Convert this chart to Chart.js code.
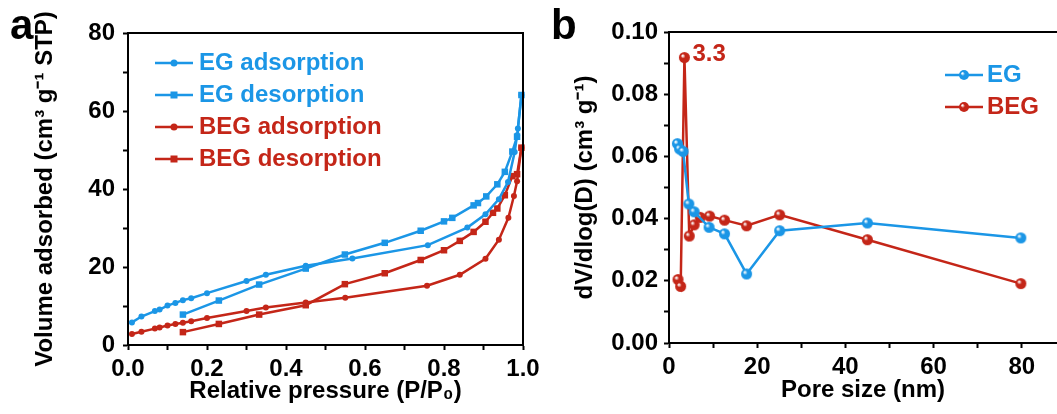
<!DOCTYPE html>
<html>
<head>
<meta charset="utf-8">
<script src="https://cdn.jsdelivr.net/npm/chart.js@4.4.1/dist/chart.umd.min.js"></script>
<style>
  html, body { margin: 0; padding: 0; background: #fff; width: 1057px; height: 414px; overflow: hidden; }
  .wrap { position: absolute; top: 0; }
  .letter { position: absolute; font-family: "Liberation Sans", Arial, sans-serif; font-weight: bold; font-size: 42px; color: #000; line-height: 1; }
</style>
</head>
<body>
<div class="wrap" style="left:0;width:540px;height:414px"><canvas id="ca" width="540" height="414"></canvas></div>
<div class="wrap" style="left:540px;width:517px;height:414px"><canvas id="cb" width="517" height="414"></canvas></div>
<div class="letter" style="left:10px;top:4px">a</div>
<div class="letter" style="left:551px;top:4px">b</div>
<script>
// ---------- Panel a data ----------
const egAdsP   = [0.010, 0.034, 0.068, 0.080, 0.100, 0.120, 0.139, 0.160, 0.200, 0.300, 0.349, 0.450, 0.568, 0.759, 0.859, 0.905, 0.939, 0.962, 0.979, 0.985, 0.987, 0.996];
const egAdsV   = [5.8, 7.3, 8.7, 9.1, 10.1, 10.8, 11.5, 12.0, 13.3, 16.4, 18.0, 20.3, 22.2, 25.6, 30.1, 33.5, 37.4, 41.8, 49.5, 53.8, 55.5, 64.1];
const egDesP   = [0.996, 0.985, 0.973, 0.954, 0.935, 0.907, 0.886, 0.875, 0.821, 0.800, 0.741, 0.650, 0.549, 0.450, 0.332, 0.230, 0.139];
const egDesV   = [64.1, 53.4, 49.6, 44.4, 41.2, 38.1, 36.4, 35.8, 32.6, 31.7, 29.3, 26.2, 23.2, 19.6, 15.5, 11.4, 7.8];
const begAdsP  = [0.010, 0.034, 0.068, 0.080, 0.100, 0.120, 0.139, 0.160, 0.200, 0.300, 0.349, 0.450, 0.550, 0.757, 0.840, 0.905, 0.939, 0.963, 0.977, 0.985, 0.996];
const begAdsV  = [2.8, 3.4, 4.2, 4.5, 5.0, 5.4, 5.7, 6.1, 6.9, 8.7, 9.6, 10.9, 12.1, 15.2, 18.0, 22.1, 27.0, 32.6, 38.2, 42.0, 50.6];
const begDesP  = [0.996, 0.985, 0.973, 0.954, 0.935, 0.924, 0.905, 0.875, 0.840, 0.800, 0.741, 0.650, 0.549, 0.450, 0.332, 0.230, 0.139];
const begDesV  = [50.6, 43.8, 43.3, 38.4, 35.0, 33.9, 31.6, 29.0, 26.7, 24.3, 21.8, 18.4, 15.6, 10.2, 7.8, 5.4, 3.3];
const seriesNamesA = ["EG adsorption", "EG desorption", "BEG adsorption", "BEG desorption"];

// ---------- Panel b data ----------
const egPore   = [1.9, 2.4, 3.2, 4.5, 5.7, 9.1, 12.6, 17.6, 25.1, 45.0, 79.8];
const egDV     = [0.0641, 0.0624, 0.0616, 0.0447, 0.0422, 0.0372, 0.0351, 0.0222, 0.0361, 0.0386, 0.0338];
const begPore  = [2.05, 2.65, 3.5, 4.6, 5.7, 7.1, 9.2, 12.6, 17.6, 25.1, 45.0, 79.8];
const begDV    = [0.0204, 0.0182, 0.0918, 0.0344, 0.0380, 0.0404, 0.0408, 0.0395, 0.0377, 0.0412, 0.0332, 0.0191];
const seriesNamesB = ["EG", "BEG"];
const peakLabel = "3.3";

const BLUE = "rgb(27,150,230)";
const RED = "rgb(196,38,24)";
const FONT = "'Liberation Sans', Arial, sans-serif";

function pts(xs, ys) { return xs.map((x, i) => ({ x: x, y: ys[i] })); }

function ballCanvas(color, r) {
  const c = document.createElement('canvas');
  const s = Math.ceil(r * 2 + 2);
  c.width = s; c.height = s;
  const g = c.getContext('2d');
  const cx = s / 2, cy = s / 2;
  const grd = g.createRadialGradient(cx - r * 0.35, cy - r * 0.35, r * 0.1, cx, cy, r);
  grd.addColorStop(0, 'rgba(255,255,255,0.95)');
  grd.addColorStop(0.35, color);
  grd.addColorStop(1, color);
  g.fillStyle = grd;
  g.beginPath(); g.arc(cx, cy, r, 0, Math.PI * 2); g.fill();
  return c;
}

function legendImg(color, style) {
  const c = document.createElement('canvas');
  c.width = 38; c.height = 14;
  const g = c.getContext('2d');
  g.strokeStyle = color; g.lineWidth = 2.5;
  g.beginPath(); g.moveTo(0, 7); g.lineTo(38, 7); g.stroke();
  g.fillStyle = color;
  if (style === 'circle') { g.beginPath(); g.arc(19, 7, 3.5, 0, Math.PI * 2); g.fill(); }
  else if (style === 'rect') { g.fillRect(15.5, 3.5, 7, 7); }
  else if (style === 'ball') { g.drawImage(ballCanvas(color, 5), 19 - 6, 7 - 6); }
  return c;
}

// frame: top line always, right line only when it lies inside the canvas
const framePlugin = {
  id: 'frame',
  afterDatasetsDraw(chart) {
    const { ctx, chartArea: a } = chart;
    ctx.save();
    ctx.strokeStyle = '#000'; ctx.lineWidth = 2;
    ctx.beginPath();
    ctx.moveTo(a.left, a.top); ctx.lineTo(a.right, a.top);
    if (a.right < chart.width - 2) { ctx.lineTo(a.right, a.bottom); }
    ctx.stroke();
    ctx.restore();
  }
};

function legendPlace(left, top) {
  return {
    id: 'legendPlace',
    afterLayout(chart) {
      const l = chart.legend;
      if (!l) return;
      const w = l.width;
      l.left = left; l.top = top; l.right = left + w; l.bottom = top + 400;
    }
  };
}

function axisCommon(extra) {
  return Object.assign({
    type: 'linear',
    grid: { drawOnChartArea: false, drawTicks: true, tickLength: 5, tickWidth: 2, tickColor: '#000' },
    border: { display: true, color: '#000', width: 2 },
  }, extra);
}

// ---------- Chart a ----------
const imgsA = [legendImg(BLUE, 'circle'), legendImg(BLUE, 'rect'), legendImg(RED, 'circle'), legendImg(RED, 'rect')];
new Chart(document.getElementById('ca'), {
  type: 'line',
  data: {
    datasets: [
      { label: seriesNamesA[0], data: pts(egAdsP, egAdsV), borderColor: BLUE, backgroundColor: BLUE, pointStyle: 'circle', pointRadius: 3 },
      { label: seriesNamesA[1], data: pts(egDesP, egDesV), borderColor: BLUE, backgroundColor: BLUE, pointStyle: 'rect', pointRadius: 4.6 },
      { label: seriesNamesA[2], data: pts(begAdsP, begAdsV), borderColor: RED, backgroundColor: RED, pointStyle: 'circle', pointRadius: 3 },
      { label: seriesNamesA[3], data: pts(begDesP, begDesV), borderColor: RED, backgroundColor: RED, pointStyle: 'rect', pointRadius: 4.6 },
    ].map(d => Object.assign(d, { borderWidth: 2.5, pointBorderWidth: 0, tension: 0, clip: false }))
  },
  options: {
    responsive: false, animation: false, devicePixelRatio: 1,
    layout: { autoPadding: false, padding: { left: 0, right: 17, top: 33, bottom: 0 } },
    plugins: {
      tooltip: { enabled: false },
      legend: {
        position: 'chartArea', align: 'start',
        labels: {
          usePointStyle: true, pointStyleWidth: 26, padding: 8,
          font: { family: FONT, size: 24, weight: 'bold' },
          generateLabels(chart) {
            return chart.data.datasets.map((d, i) => ({
              text: d.label, fillStyle: d.borderColor, strokeStyle: d.borderColor,
              fontColor: d.borderColor, lineWidth: 0, pointStyle: imgsA[i], hidden: false, datasetIndex: i
            }));
          }
        }
      }
    },
    scales: {
      x: axisCommon({
        min: 0, max: 1,
        ticks: {
          stepSize: 0.1, autoSkip: false, maxRotation: 0, padding: 5, color: '#000',
          font: { family: FONT, size: 24, weight: 'bold' },
          callback: v => (Math.round(v * 10) % 2 === 0 ? v.toFixed(1) : '')
        },
        title: { display: true, text: 'Relative pressure (P/P₀)', color: '#000', font: { family: FONT, size: 24, weight: 'bold' }, padding: { top: 0, bottom: 8 } },
        afterFit(s) { s.height = 69; s.paddingLeft = 0; s.paddingRight = 0; }
      }),
      y: axisCommon({
        min: 0, max: 80,
        ticks: {
          stepSize: 10, autoSkip: false, padding: 8, color: '#000',
          font: { family: FONT, size: 24, weight: 'bold' },
          callback: v => (Math.round(v) % 20 === 0 ? String(v) : '')
        },
        title: { display: true, text: 'Volume adsorbed (cm³ g⁻¹ STP)', color: '#000', font: { family: FONT, size: 24, weight: 'bold' }, padding: { top: 31, bottom: 0 } },
        afterFit(s) { s.width = 128; }
      })
    }
  },
  plugins: [framePlugin, legendPlace(153, 43)]
});

// ---------- Chart b ----------
const ballB = [ballCanvas(BLUE, 5.5), ballCanvas(RED, 5.5)];
const imgsB = [legendImg(BLUE, 'ball'), legendImg(RED, 'ball')];
const peakPlugin = {
  id: 'peakLabel',
  afterDatasetsDraw(chart) {
    const meta = chart.getDatasetMeta(1);
    let idx = 0;
    begDV.forEach((v, i) => { if (v > begDV[idx]) idx = i; });
    const el = meta.data[idx];
    const ctx = chart.ctx;
    ctx.save();
    ctx.fillStyle = RED;
    ctx.font = "bold 24px " + FONT;
    ctx.textAlign = 'left'; ctx.textBaseline = 'middle';
    ctx.fillText(peakLabel, el.x + 8, el.y - 3);
    ctx.restore();
  }
};
new Chart(document.getElementById('cb'), {
  type: 'line',
  data: {
    datasets: [
      { label: seriesNamesB[0], data: pts(egPore, egDV), borderColor: BLUE, backgroundColor: BLUE, pointStyle: ballB[0] },
      { label: seriesNamesB[1], data: pts(begPore, begDV), borderColor: RED, backgroundColor: RED, pointStyle: ballB[1] },
    ].map(d => Object.assign(d, { borderWidth: 2.5, pointRadius: 5, tension: 0, clip: false }))
  },
  options: {
    responsive: false, animation: false, devicePixelRatio: 1,
    layout: { autoPadding: false, padding: { left: 0, right: 0, top: 32, bottom: 0 } },
    plugins: {
      tooltip: { enabled: false },
      legend: {
        position: 'chartArea', align: 'start',
        labels: {
          usePointStyle: true, pointStyleWidth: 22, padding: 8,
          font: { family: FONT, size: 24, weight: 'bold' },
          generateLabels(chart) {
            return chart.data.datasets.map((d, i) => ({
              text: d.label, fillStyle: d.borderColor, strokeStyle: d.borderColor,
              fontColor: d.borderColor, lineWidth: 0, pointStyle: imgsB[i], hidden: false, datasetIndex: i
            }));
          }
        }
      }
    },
    scales: {
      x: axisCommon({
        min: 0, max: 88,
        ticks: {
          stepSize: 10, autoSkip: false, includeBounds: false, maxRotation: 0, padding: 5, color: '#000',
          font: { family: FONT, size: 24, weight: 'bold' },
          callback: v => (Math.round(v) % 20 === 0 ? String(v) : '')
        },
        title: { display: true, text: 'Pore size (nm)', color: '#000', font: { family: FONT, size: 24, weight: 'bold' }, padding: { top: 0, bottom: 9 } },
        afterFit(s) { s.height = 71; s.paddingLeft = 0; s.paddingRight = 0; }
      }),
      y: axisCommon({
        min: 0, max: 0.1,
        ticks: {
          stepSize: 0.01, autoSkip: false, padding: 6, color: '#000',
          font: { family: FONT, size: 24, weight: 'bold' },
          callback: v => (Math.round(v * 100) % 2 === 0 ? v.toFixed(2) : '')
        },
        title: { display: true, text: 'dV/dlog(D) (cm³ g⁻¹)', color: '#000', font: { family: FONT, size: 24, weight: 'bold' }, padding: { top: 31, bottom: 0 } },
        afterFit(s) { s.width = 129; }
      })
    }
  },
  plugins: [framePlugin, peakPlugin, legendPlace(405, 55)]
});
</script>
</body>
</html>
